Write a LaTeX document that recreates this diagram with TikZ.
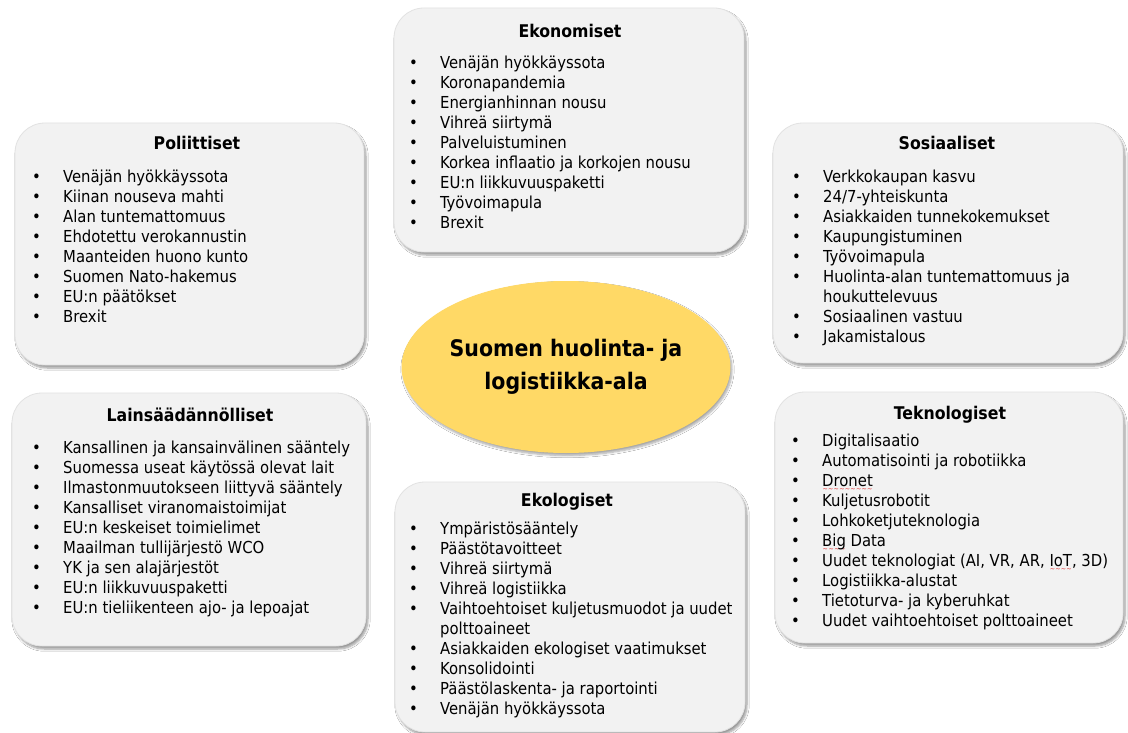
\documentclass[tikz,border=0pt]{standalone}
\usepackage{fontspec}
\setmainfont{DejaVu Sans Condensed}
\usetikzlibrary{shapes.geometric,shadows.blur}

\definecolor{laatikkoharmaa}{HTML}{F2F2F2}
\definecolor{reunaharmaa}{HTML}{E2E2E2}
\definecolor{keltainen}{HTML}{FFD966}
\definecolor{virhepuna}{HTML}{E03030}

\newcommand{\kohta}[1]{\makebox[31pt][l]{\textbullet}#1}
\newcommand{\jatko}[1]{\hspace*{31pt}#1}
\newlength{\virhepituus}
\newcommand{\virhe}[1]{\settowidth{\virhepituus}{#1}%
	\rlap{\smash{\raisebox{-5pt}{\textcolor{virhepuna}{\fontsize{7}{7}\selectfont
					\xleaders\hbox{\char"7E}\hskip\virhepituus}}}}#1}

\begin{document}
\begin{tikzpicture}[x=1pt,y=-1pt,
		laatikko/.style={draw=reunaharmaa, line width=0.8pt, fill=laatikkoharmaa,
			rounded corners=30pt, inner sep=0pt,
			blur shadow={shadow xshift=2pt, shadow yshift=-3pt, shadow opacity=40, shadow blur steps=6}},
		otsikko/.style={font=\fontsize{17.5}{20}\selectfont\bfseries, anchor=base, inner sep=0pt},
		lista/.style={font=\fontsize{16.5}{20}\selectfont, align=left, anchor=north west,
			inner sep=0pt, execute at begin node=\strut},
		keskus/.style={ellipse, fill=keltainen, draw=none,
			inner sep=0pt, align=center, font=\fontsize{22.8}{33}\selectfont\bfseries,
			blur shadow={shadow xshift=1.5pt, shadow yshift=-2.5pt, shadow opacity=35, shadow blur steps=6}},
		]
	
	%% tausta ja rajat
	\useasboundingbox (0,0) rectangle (1128,733);
	\fill[white] (0,0) rectangle (1128,733);
	
	%% =========================================================
	%% laatikot
	%% =========================================================
	\node[laatikko, minimum width=349pt, minimum height=242pt] (polit) at (189.5,244) {};
	\node[laatikko, minimum width=354pt, minimum height=253pt] (laki)  at (189,519.5) {};
	\node[laatikko, minimum width=350pt, minimum height=244pt] (ekon)  at (569,130) {};
	\node[laatikko, minimum width=350pt, minimum height=250pt] (ekol)  at (570,607) {};
	\node[laatikko, minimum width=350pt, minimum height=240pt] (sosi)  at (948,243) {};
	\node[laatikko, minimum width=348pt, minimum height=251pt] (tekn)  at (949,517.5) {};
	
	%% keskella ala
	\node[keskus, minimum width=296pt, minimum height=172pt] (ala) at (566,367)
	{Suomen huolinta- ja\\logistiikka-ala};
	
	%% =========================================================
	%% otsikot
	%% =========================================================
	\node[otsikko] (polit-o) at (197,150) {Poliittiset};
	\node[otsikko] (laki-o)  at (190,421) {Lainsäädännölliset};
	\node[otsikko] (ekon-o)  at (570,38)  {Ekonomiset};
	\node[otsikko] (ekol-o)  at (567,506) {Ekologiset};
	\node[otsikko] (sosi-o)  at (947,150) {Sosiaaliset};
	\node[otsikko] (tekn-o)  at (950,419) {Teknologiset};
	
	%% =========================================================
	%% luettelot
	%% =========================================================
	\node[lista] (polit-l) at (32,170) {%
		\kohta{Venäjän hyökkäyssota}\\
		\kohta{Kiinan nouseva mahti}\\
		\kohta{Alan tuntemattomuus}\\
		\kohta{Ehdotettu verokannustin}\\
		\kohta{Maanteiden huono kunto}\\
		\kohta{Suomen Nato-hakemus}\\
		\kohta{EU:n päätökset}\\
		\kohta{Brexit}};
	
	\node[lista] (laki-l) at (32,441) {%
		\kohta{Kansallinen ja kansainvälinen sääntely}\\
		\kohta{Suomessa useat käytössä olevat lait}\\
		\kohta{Ilmastonmuutokseen liittyvä sääntely}\\
		\kohta{Kansalliset viranomaistoimijat}\\
		\kohta{EU:n keskeiset toimielimet}\\
		\kohta{Maailman tullijärjestö WCO}\\
		\kohta{YK ja sen alajärjestöt}\\
		\kohta{EU:n liikkuvuuspaketti}\\
		\kohta{EU:n tieliikenteen ajo- ja lepoajat}};
	
	\node[lista] (ekon-l) at (409,56) {%
		\kohta{Venäjän hyökkäyssota}\\
		\kohta{Koronapandemia}\\
		\kohta{Energianhinnan nousu}\\
		\kohta{Vihreä siirtymä}\\
		\kohta{Palveluistuminen}\\
		\kohta{Korkea inflaatio ja korkojen nousu}\\
		\kohta{EU:n liikkuvuuspaketti}\\
		\kohta{Työvoimapula}\\
		\kohta{Brexit}};
	
	\node[lista] (ekol-l) at (409,522) {%
		\kohta{Ympäristösääntely}\\
		\kohta{Päästötavoitteet}\\
		\kohta{Vihreä siirtymä}\\
		\kohta{Vihreä logistiikka}\\
		\kohta{Vaihtoehtoiset kuljetusmuodot ja uudet}\\
		\jatko{polttoaineet}\\
		\kohta{Asiakkaiden ekologiset vaatimukset}\\
		\kohta{Konsolidointi}\\
		\kohta{Päästölaskenta- ja raportointi}\\
		\kohta{Venäjän hyökkäyssota}};
	
	\node[lista] (sosi-l) at (792,170) {%
		\kohta{Verkkokaupan kasvu}\\
		\kohta{24/7-yhteiskunta}\\
		\kohta{Asiakkaiden tunnekokemukset}\\
		\kohta{Kaupungistuminen}\\
		\kohta{Työvoimapula}\\
		\kohta{Huolinta-alan tuntemattomuus ja}\\
		\jatko{houkuttelevuus}\\
		\kohta{Sosiaalinen vastuu}\\
		\kohta{Jakamistalous}};
	
	\node[lista] (tekn-l) at (791,434) {%
		\kohta{Digitalisaatio}\\
		\kohta{Automatisointi ja robotiikka}\\
		\kohta{\virhe{Dronet}}\\
		\kohta{Kuljetusrobotit}\\
		\kohta{Lohkoketjuteknologia}\\
		\kohta{\virhe{Big} Data}\\
		\kohta{Uudet teknologiat (AI, VR, AR, \virhe{IoT}, 3D)}\\
		\kohta{Logistiikka-alustat}\\
		\kohta{Tietoturva- ja kyberuhkat}\\
		\kohta{Uudet vaihtoehtoiset polttoaineet}};
	
\end{tikzpicture}
\end{document}
